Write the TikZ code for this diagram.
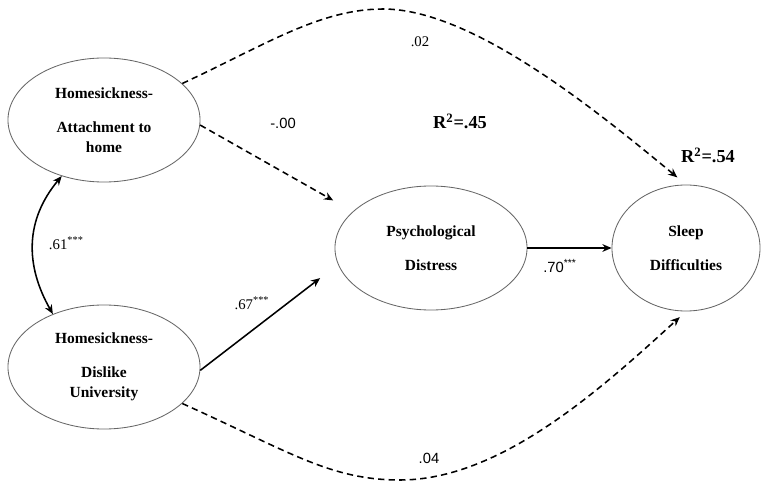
\documentclass[tikz,border=0pt]{standalone}
\usepackage{fontspec}
\setmainfont{Liberation Serif}
\newfontfamily\labelsans{Liberation Sans}
\usetikzlibrary{shapes.geometric,arrows.meta}

\begin{document}
\begin{tikzpicture} [x=0.025cm, y=-0.025cm, >={Stealth[length=6.5pt, width=5.5pt]},
	latent/.style={ellipse, draw=black!60, line width=0.6pt, minimum width=4.8cm, minimum height=3.1cm, align=center, font=\bfseries\fontsize{11}{14}\selectfont},
	effect/.style={line width=1.1pt, ->},
	weak/.style={effect, dash pattern=on 4.5pt off 3pt},
	coef/.style={font=\fontsize{10.5}{12}\selectfont},
	rsq/.style={font=\bfseries\fontsize{13}{15}\selectfont}]
	\useasboundingbox (0,0) rectangle (764,485);
	\node [latent] (attach) at (104,120) {Homesickness-\\[10pt] Attachment to\\ home};
	\node [latent] (dislike) at (104,367) {Homesickness-\\[10pt] Dislike\\ University};
	\node [latent] (psych) at (431,248) {Psychological\\[10pt] Distress};
	\node [latent, minimum width=3.7cm, minimum height=3.15cm] (sleep) at (686,248) {Sleep\\[10pt] Difficulties};
	\coordinate (high) at (383,9);
	\coordinate (low) at (400,480);
	\draw [effect] (psych.east) -- (sleep.west);
	\draw [effect, shorten >=16pt] (dislike.-2) -- (psych.190);
	\draw [weak, shorten >=16pt] (attach.-3) -- (psych.155);
	\draw [weak, shorten >=8pt] (attach.25) .. controls (265,45) and (320,9) .. (high)
		.. controls (470,9) and (590,105) .. (sleep.north);
	\draw [weak, shorten >=6pt] (dislike.-25) .. controls (290,452) and (330,480) .. (low)
		.. controls (500,480) and (600,390) .. (sleep.south);
	\draw [line width=1.1pt, <->] (attach.233) .. controls (25,220) and (25,265) .. (dislike.134);
	\node [coef] (c02) at (420,42) {.02};
	\node [coef, font=\labelsans\fontsize{10.5}{12}\selectfont] (c00) at (283,123) {-.00};
	\node [coef] (c67) at (252,303) {.67\textsuperscript{***}};
	\node [coef, font=\labelsans\fontsize{10.5}{12}\selectfont] (c70) at (560,266) {.70\textsuperscript{***}};
	\node [coef, anchor=west] (c61) at (44,243) {.61\textsuperscript{***}};
	\node [coef, font=\labelsans\fontsize{10.5}{12}\selectfont] (c04) at (429,458) {.04};
	\node [rsq] (r45) at (460,121) {R\textsuperscript{2}=.45};
	\node [rsq] (r54) at (708,155) {R\textsuperscript{2}=.54};
\end{tikzpicture}
\end{document}
